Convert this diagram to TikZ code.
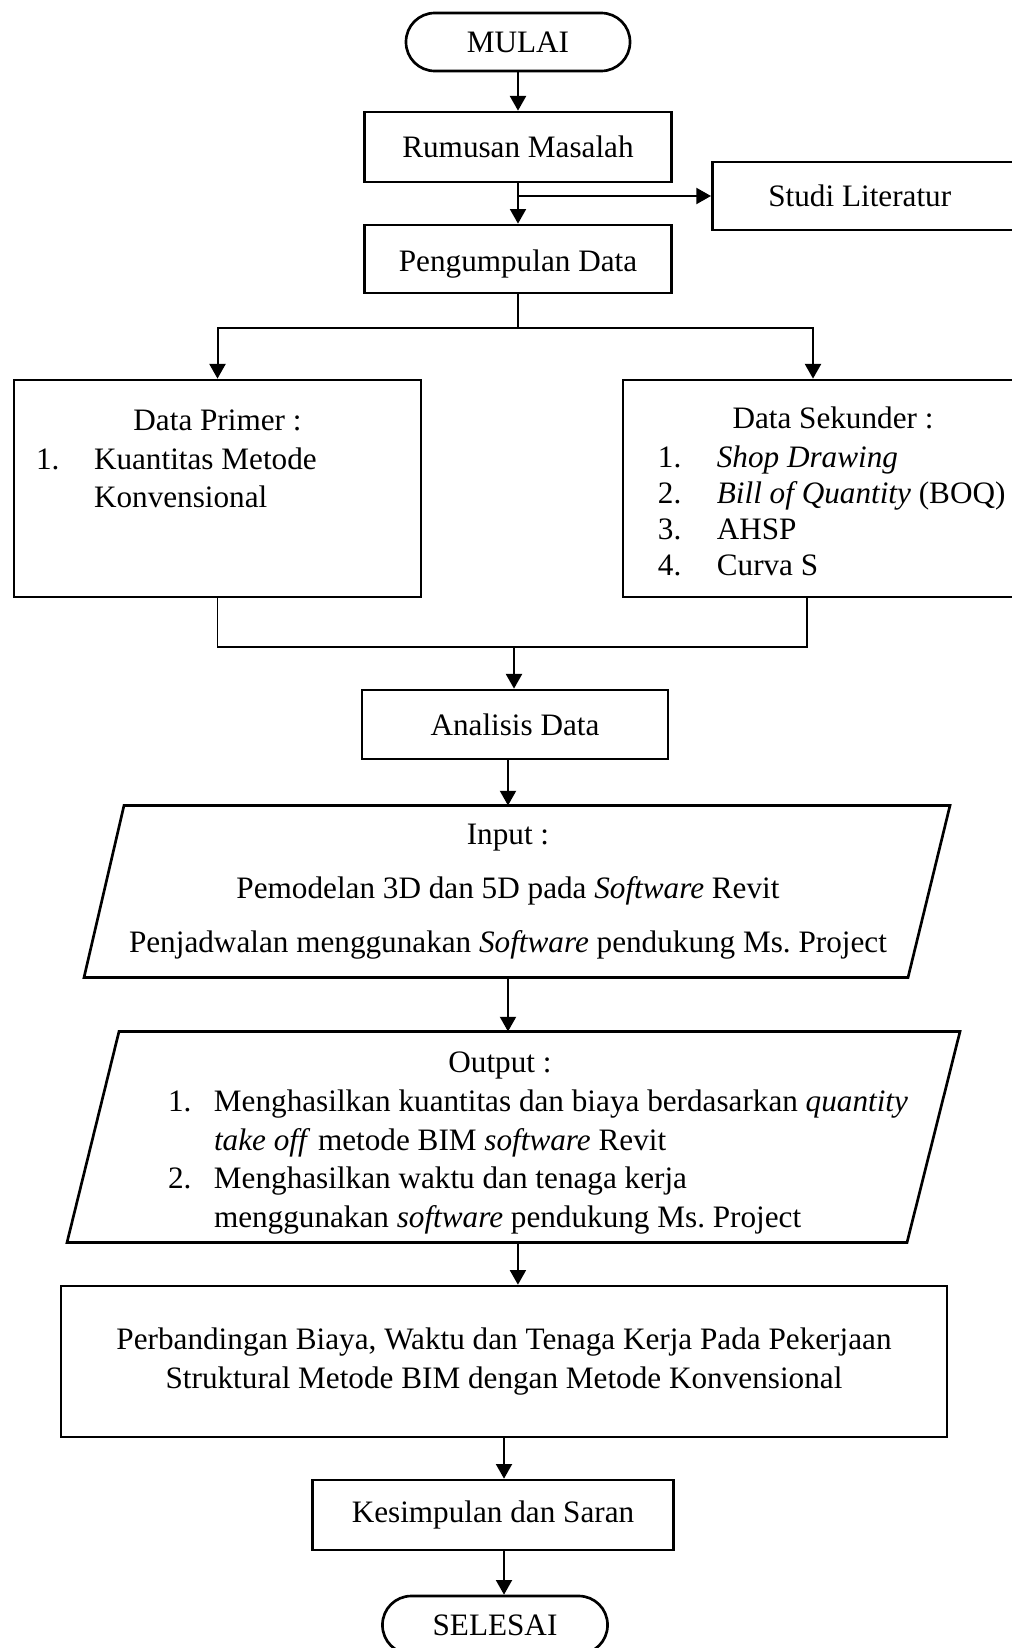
\documentclass[tikz,border=0pt]{standalone}
\usepackage{fontspec}
\setmainfont{Liberation Serif}
\usetikzlibrary{arrows.meta,positioning}

\begin{document}
\begin{tikzpicture}[x=0.375pt,y=-0.375pt,
  every node/.style={font=\fontsize{11.7pt}{14.5pt}\selectfont},
  box/.style={draw,line width=1pt,inner sep=0pt,align=center},
  term/.style={box,rounded corners=10.8pt,minimum width=84pt,minimum height=21.75pt},
  arr/.style={line width=0.75pt,-{Triangle[length=5.5pt,width=6pt]}},
  conn/.style={line width=0.45pt}]
\useasboundingbox (0,0) rectangle (1012,1648);
\clip (0,0) rectangle (1012,1648);

\node[term] (mulai) at (518,42) {MULAI};
\node[box,minimum width=115.1pt,minimum height=26.25pt] (rumusan) at (518,147) {Rumusan Masalah};
\node[box,anchor=west,minimum height=25.5pt,inner xsep=21pt,text width=81.4pt,align=flush left] (studi) at (711,196) {Studi Literatur};
\node[box,minimum width=115.1pt,minimum height=25.5pt,text height=11.5pt,text depth=1.9pt] (kumpul) at (518,259) {Pengumpulan Data};

\node[box] (primer) at (217.5,488.5) {\parbox[c][81.4pt][t]{152.6pt}{\centering\rule{0pt}{18.9pt}Data Primer :\par
  \raggedright\hspace*{8.25pt}\begin{tabular}[t]{@{}p{21.75pt}@{}l@{}}
  1. & Kuantitas Metode\\
     & Konvensional
  \end{tabular}}};
\node[box] (sekunder) at (833,488.5) {\parbox[c][81.4pt][t]{157.5pt}{\centering\rule{0pt}{18.2pt}Data Sekunder :\par
  \raggedright\renewcommand{\arraystretch}{0.93}\hspace*{13.1pt}\begin{tabular}[t]{@{}p{22.1pt}@{}l@{}}
  1. & \emph{Shop Drawing}\\
  2. & \emph{Bill of Quantity} (BOQ)\\
  3. & AHSP\\
  4. & Curva S
  \end{tabular}}};

\node[box,minimum width=114.75pt,minimum height=25.9pt] (analisis) at (515,724.5) {Analisis Data};

\node[inner sep=0pt,minimum height=64.125pt,align=center,font=\fontsize{11.7pt}{20.25pt}\selectfont] (input) at (508,891.5)
  {Input :\\ Pemodelan 3D dan 5D pada \emph{Software} Revit\\ Penjadwalan menggunakan \emph{Software} pendukung Ms.\ Project};
\draw[line width=1pt] ([shift={(-384,0)}]input.north) -- ([shift={(442,0)}]input.north)
  -- ([shift={(400,0)}]input.south) -- ([shift={(-424,0)}]input.south) -- cycle;

\node[inner sep=0pt,minimum height=78.75pt] (output) at (539,1137) {\parbox{278.25pt}{\centering\rule{0pt}{12pt}\hspace*{-29.25pt}Output :\par
  \raggedright\begin{tabular}[t]{@{}p{17.25pt}@{}l@{}}
  1. & Menghasilkan kuantitas dan biaya berdasarkan \emph{quantity}\\
     & \emph{take off} metode BIM \emph{software} Revit\\
  2. & Menghasilkan waktu dan tenaga kerja\\
     & menggunakan \emph{software} pendukung Ms.\ Project
  \end{tabular}\par\vspace{-2.2pt}}};
\draw[line width=1pt] ([shift={(-420,0)}]output.north) -- ([shift={(421,0)}]output.north)
  -- ([shift={(368,0)}]output.south) -- ([shift={(-472,0)}]output.south) -- cycle;

\node[box,minimum width=332.25pt,minimum height=56.6pt] (perb) at (504,1361.5)
  {\raisebox{-1.1pt}{\parbox{330pt}{\centering Perbandingan Biaya, Waktu dan Tenaga Kerja Pada Pekerjaan\\ Struktural Metode BIM dengan Metode Konvensional}}};
\node[box,minimum width=135.4pt,minimum height=26.25pt] (kesimpulan) at (493,1515) {Kesimpulan dan Saran};
\node[term,minimum width=84.4pt] (selesai) at (495,1625) {SELESAI};

\draw[arr] (mulai.south) -- (mulai.south |- rumusan.north);
\draw[arr] (rumusan.south) -- (rumusan.south |- kumpul.north);
\draw[arr] (rumusan.south |- studi.west) -- (studi.west);

\coordinate (bagi) at (518,328);
\draw[conn] (kumpul.south) -- (bagi);
\draw[arr] (bagi) -| (primer.north);
\draw[arr] (bagi) -| ([xshift=-7.5pt]sekunder.north);

\coordinate (gabung) at (514,647);
\draw[conn] (primer.south) |- (gabung) -| ([xshift=-9.75pt]sekunder.south);
\draw[arr] (gabung) -- (gabung |- analisis.north);
\draw[arr] (analisis.south -| input.north) -- (input.north);
\draw[arr] (input.south) -- (input.south |- output.north);
\coordinate (keluar) at ([xshift=-7.9pt]output.south);
\draw[arr] (keluar) -- (keluar |- perb.north);
\draw[arr] (perb.south) -- (perb.south |- kesimpulan.north);
\draw[arr] (perb.south |- kesimpulan.south) -- (perb.south |- selesai.north);

\end{tikzpicture}
\end{document}
